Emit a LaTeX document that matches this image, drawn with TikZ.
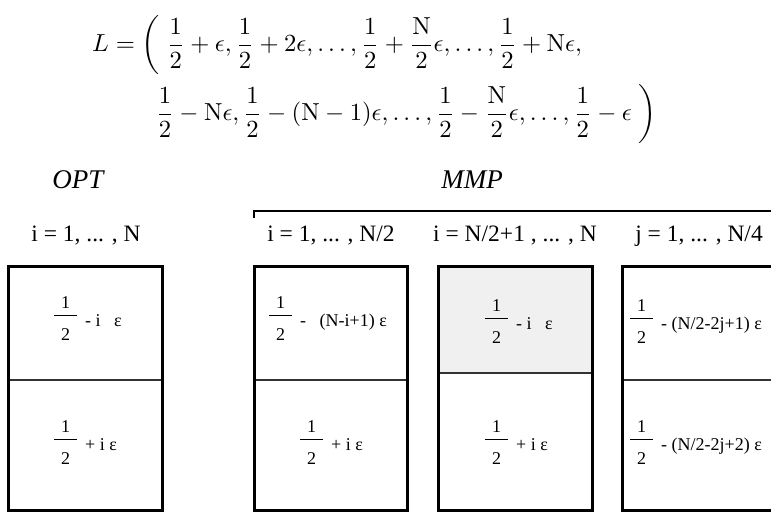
\documentclass[tikz,border=0pt]{standalone}
\usepackage{graphicx}
\usepackage[no-math]{fontspec}
\setmainfont{Liberation Serif}
% one half over a wide bar, then the rest of the cell text
\newcommand{\halfcell}[1]{{\setlength{\arrayrulewidth}{1pt}\begin{tabular}{@{}c@{}}\makebox[23pt]{1}\\\hline\rule{0pt}{25pt}2\end{tabular}}\hspace{8pt}\raisebox{-2pt}{#1}}
\begin{document}
\begin{tikzpicture}[x=1pt,y=-1pt,line join=miter,
    box/.style={line width=3pt},
    split/.style={line width=1.5pt,draw=black!80},
    formula/.style={inner sep=0pt},
    ttl/.style={font=\fontsize{27}{30}\selectfont\itshape,inner sep=0pt},
    idx/.style={font=\fontsize{23.5}{27}\selectfont,inner sep=0pt},
    cell/.style={font=\fontsize{18}{20}\selectfont,anchor=west,inner sep=0pt}]
  \useasboundingbox (0,0) rectangle (771,514);
  \clip (0,0) rectangle (771,514);
  % the list L
  \node[formula,anchor=west] (lineA) at (92,45) {\scalebox{2.46}{$\displaystyle L=\left(\;\frac{1}{2}+\epsilon,\frac{1}{2}+2\epsilon,\dots,\frac{1}{2}+\frac{\mathrm{N}}{2}\epsilon,\dots,\frac{1}{2}+\mathrm{N}\epsilon,\right.$}};
  \node[formula,anchor=east] (lineB) at (657,114) {\scalebox{2.46}{$\displaystyle \left.\frac{1}{2}-\mathrm{N}\epsilon,\frac{1}{2}-(\mathrm{N}-1)\epsilon,\dots,\frac{1}{2}-\frac{\mathrm{N}}{2}\epsilon,\dots,\frac{1}{2}-\epsilon\;\right)$}};
  % titles
  \node[ttl] (opttitle) at (78,180) {OPT};
  \node[ttl] (mmptitle) at (472,180) {MMP};
  \draw[line width=1.2pt] (254,218) -- (254,211) -- (780,211);
  % index ranges
  \node[idx] (optidx) at (86,236) {i = 1, ... , N};
  \node[idx] (lowidx) at (331,236) {i = 1, ... , N/2};
  \node[idx] (highidx) at (515,236) {i = N/2+1 , ... , N};
  \node[idx] (pairidx) at (699,236) {j = 1, ... , N/4};
  % bins
  \fill[gray!12] (438,266) rectangle (592,373);
  \draw[split] (8,380) -- (162,380);
  \draw[split] (254,380) -- (407,380);
  \draw[split] (438,373) -- (592,373);
  \draw[split] (622,380) -- (776,380);
  \draw[box] (8,266) rectangle (162,510);
  \draw[box] (254,266) rectangle (407,510);
  \draw[box] (438,266) rectangle (592,510);
  \draw[box] (622,266) rectangle (776,510);
  % bin contents
  \node[cell] (opttop) at (54,320.5) {\halfcell{- i~~~ε}};
  \node[cell] (optbot) at (54,444.5) {\halfcell{+ i ε}};
  \node[cell] (lowtop) at (269,320.5) {\halfcell{-~~~(N-i+1)~ε}};
  \node[cell] (lowbot) at (300,444.5) {\halfcell{+ i ε}};
  \node[cell] (hightop) at (485,323.5) {\halfcell{- i~~~ε}};
  \node[cell] (highbot) at (485,444.5) {\halfcell{+ i ε}};
  \node[cell] (pairtop) at (630,323.5) {\halfcell{- (N/2-2j+1) ε}};
  \node[cell] (pairbot) at (630,444.5) {\halfcell{- (N/2-2j+2) ε}};
\end{tikzpicture}
\end{document}
